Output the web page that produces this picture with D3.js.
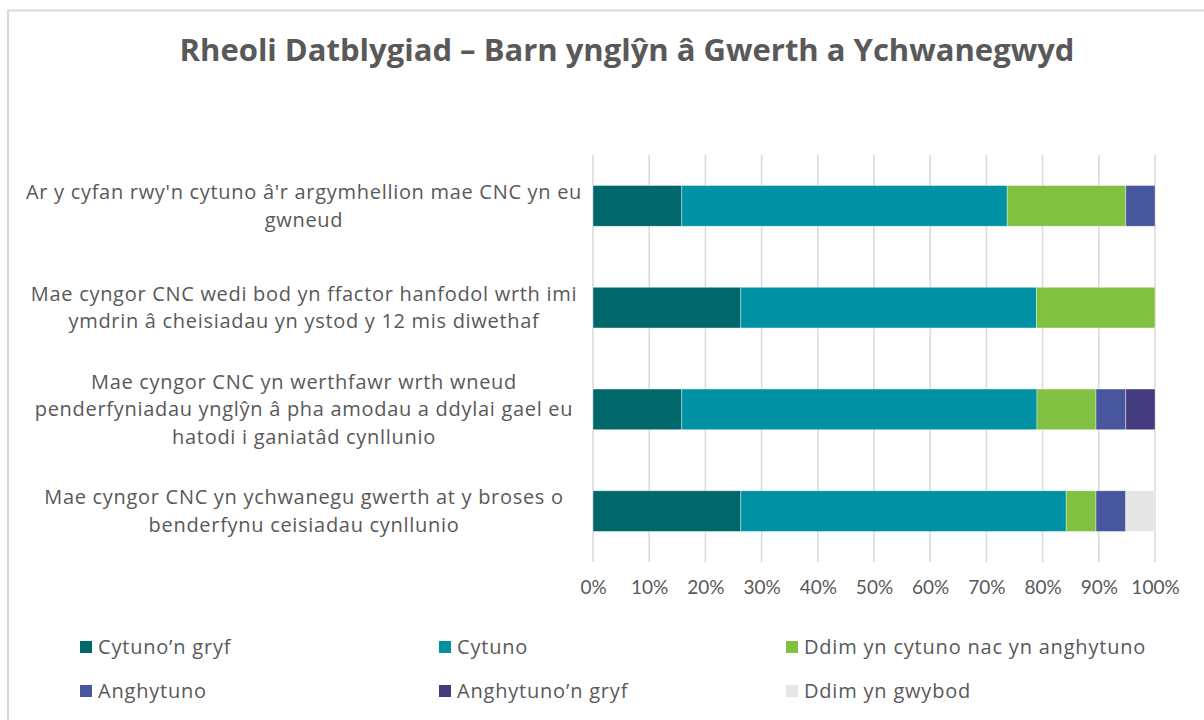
<!DOCTYPE html>
<html>
<head>
<meta charset="utf-8">
<script src="https://cdn.jsdelivr.net/npm/d3@7"></script>
<style>
  body { margin: 0; background: #fff; }
  svg text { font-family: "Open Sans", sans-serif; fill: #595959; }
</style>
</head>
<body>
<svg id="chart" width="1204" height="720"></svg>
<script>
// categories, top to bottom, already split into lines as in the picture
const categories = [
  ["Ar y cyfan rwy'n cytuno â'r argymhellion mae CNC yn eu", "gwneud"],
  ["Mae cyngor CNC wedi bod yn ffactor hanfodol wrth imi", "ymdrin â cheisiadau yn ystod y 12 mis diwethaf"],
  ["Mae cyngor CNC yn werthfawr wrth wneud", "penderfyniadau ynglŷn â pha amodau a ddylai gael eu", "hatodi i ganiatâd cynllunio"],
  ["Mae cyngor CNC yn ychwanegu gwerth at y broses o", "benderfynu ceisiadau cynllunio"]
];

const seriesNames = ["Cytuno’n gryf", "Cytuno", "Ddim yn cytuno nac yn anghytuno",
                     "Anghytuno", "Anghytuno’n gryf", "Ddim yn gwybod"];
const seriesColors = ["#00676A", "#0091A4", "#80C141", "#48569D", "#433B7E", "#E6E6E6"];

// percentages per series, one value per category (top to bottom)
const strongAgree    = [15.8, 26.3, 15.8, 26.3];
const agree          = [57.9, 52.6, 63.2, 57.9];
const neutral        = [21.1, 21.1, 10.5, 5.3];
const disagree       = [5.3, 0, 5.3, 5.3];
const strongDisagree = [0, 0, 5.3, 0];
const dontKnow       = [0, 0, 0, 5.3];

const xTicks = [0, 10, 20, 30, 40, 50, 60, 70, 80, 90, 100];

const title = "Rheoli Datblygiad – Barn ynglŷn â Gwerth a Ychwanegwyd";

const series = [strongAgree, agree, neutral, disagree, strongDisagree, dontKnow];

const svg = d3.select("#chart");

// outer chart border
svg.append("rect")
  .attr("x", 8).attr("y", 10.5)
  .attr("width", 1300).attr("height", 800)
  .attr("fill", "none")
  .attr("stroke", "#D9D9D9")
  .attr("stroke-width", 2);

svg.append("text")
  .attr("x", 627).attr("y", 61)
  .attr("text-anchor", "middle")
  .style("font-size", "31px")
  .style("font-weight", "bold")
  .text(title);

const x = d3.scaleLinear().domain([0, 100]).range([593, 1155]);
const y = d3.scaleBand()
  .domain(d3.range(categories.length))
  .range([155, 562])
  .paddingInner(0.6)
  .paddingOuter(0.3);

// grid
svg.append("g")
  .selectAll("line")
  .data(xTicks)
  .join("line")
  .attr("x1", d => x(d)).attr("x2", d => x(d))
  .attr("y1", 155).attr("y2", 562)
  .attr("stroke", "#D9D9D9")
  .attr("stroke-width", 1.5);

// stacked bars
const stacked = categories.map((c, i) => {
  let acc = 0;
  return series.map((s, k) => {
    const seg = { cat: i, k: k, x0: acc, x1: acc + s[i] };
    acc += s[i];
    return seg;
  }).filter(d => d.x1 > d.x0);
});

svg.append("g")
  .selectAll("rect")
  .data(stacked.flat())
  .join("rect")
  .attr("x", d => x(d.x0))
  .attr("y", d => y(d.cat))
  .attr("width", d => x(Math.min(d.x1, 100)) - x(d.x0))
  .attr("height", y.bandwidth())
  .attr("fill", d => seriesColors[d.k])
  .attr("stroke", "rgba(255,255,255,0.5)")
  .attr("stroke-width", 0.75);

// x axis labels
const xAxis = d3.axisBottom(x)
  .tickValues(xTicks)
  .tickFormat(d => d + "%")
  .tickSize(0)
  .tickPadding(0);

const gx = svg.append("g")
  .attr("transform", "translate(0,580)")
  .call(xAxis);
gx.select(".domain").remove();
gx.selectAll("text")
  .style("font-size", "19px")
  .style("font-family", "Lato, 'Open Sans', sans-serif")
  .attr("fill", "#595959");

// category labels
const lineH = 27.5;
const labels = svg.append("g")
  .selectAll("text")
  .data(categories)
  .join("text")
  .attr("text-anchor", "middle")
  .style("font-size", "20px")
  .style("letter-spacing", "0.7px");

labels.each(function (lines, i) {
  const cy = y(i) + y.bandwidth() / 2;
  const top = cy - (lines.length - 1) * lineH / 2;
  d3.select(this).selectAll("tspan")
    .data(lines)
    .join("tspan")
    .attr("x", 304)
    .attr("y", (d, j) => top + j * lineH)
    .attr("dy", "0.35em")
    .text(d => d);
});

// legend
const legX = [80, 439, 786];
const legY = [647, 691];
const leg = svg.append("g")
  .selectAll("g")
  .data(seriesNames)
  .join("g")
  .attr("transform", (d, i) => `translate(${legX[i % 3]},${legY[Math.floor(i / 3)]})`);

leg.append("rect")
  .attr("x", 0).attr("y", -6)
  .attr("width", 12).attr("height", 12)
  .attr("fill", (d, i) => seriesColors[i]);

leg.append("text")
  .attr("x", 18)
  .attr("dy", "0.35em")
  .style("font-size", "20px")
  .style("letter-spacing", "0.8px")
  .text(d => d);
</script>
</body>
</html>
